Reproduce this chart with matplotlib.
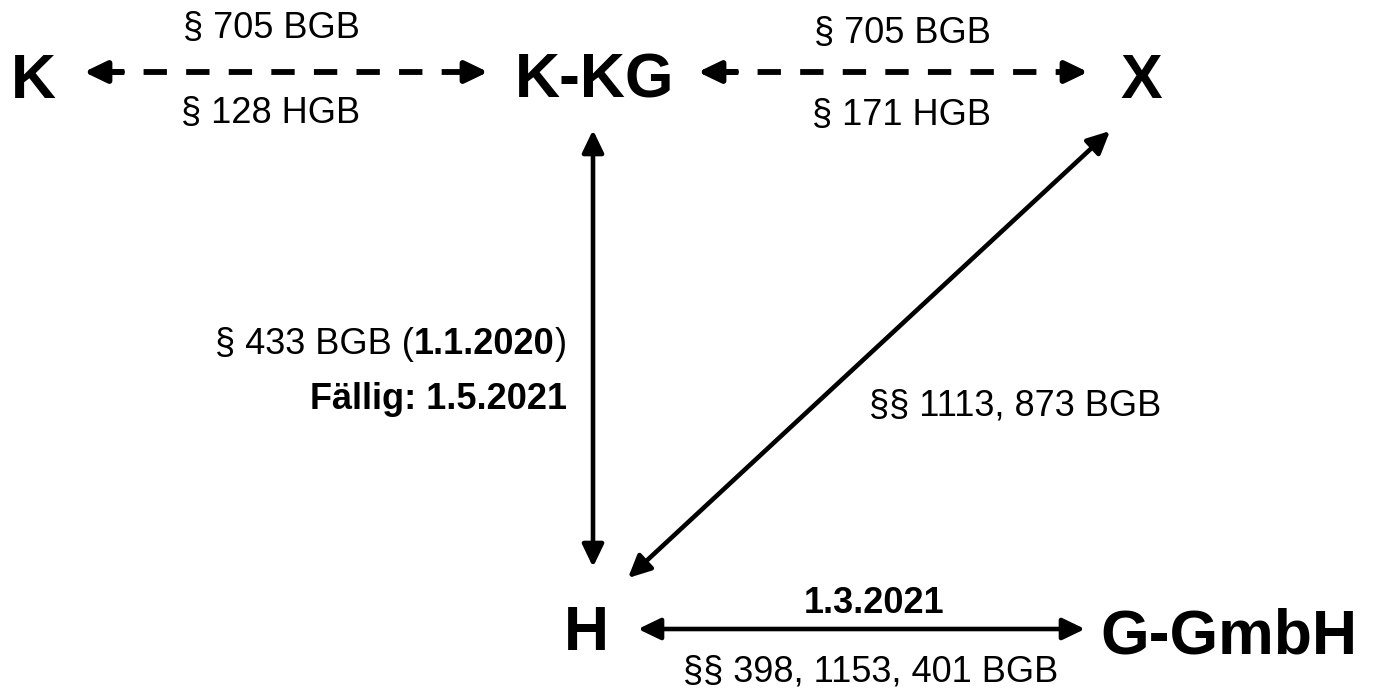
import matplotlib
matplotlib.use("Agg")
import matplotlib.pyplot as plt

plt.rcParams["font.family"] = ["Liberation Sans", "DejaVu Sans"]

# nodes of the diagram
node_names = ["K", "K-KG", "X", "H", "G-GmbH"]

# edges: (from, to, dashed)
edges = [
    ("K", "K-KG", True),
    ("K-KG", "X", True),
    ("K-KG", "H", False),
    ("X", "H", False),
    ("H", "G-GmbH", False),
]

# label texts
lbl_k_top = "§ 705 BGB"
lbl_k_bottom = "§ 128 HGB"
lbl_x_top = "§ 705 BGB"
lbl_x_bottom = "§ 171 HGB"
lbl_hyp = "§§ 1113, 873 BGB"
lbl_loan_parts = ["§ 433 BGB (", "1.1.2020", ")"]
lbl_due = "Fällig: 1.5.2021"
lbl_date = "1.3.2021"
lbl_assign = "§§ 398, 1153, 401 BGB"

# layout in pixel coordinates (x, text baseline)
node_pos = {
    "K": (33, 98),
    "K-KG": (595, 98),
    "X": (1141, 98),
    "H": (586, 650),
    "G-GmbH": (1229, 654),
}
# arrow end points for every edge
edge_ends = {
    ("K", "K-KG"): ((84, 72), (488, 72)),
    ("K-KG", "X"): ((698, 72), (1088, 72)),
    ("K-KG", "H"): ((593, 130), (593, 567)),
    ("X", "H"): ((1110, 131), (628, 578)),
    ("H", "G-GmbH"): ((638, 629), (1085, 629)),
}

fig = plt.figure(figsize=(13.76, 6.88), dpi=100)
ax = fig.add_axes([0, 0, 1, 1])
ax.set_xlim(0, 1376)
ax.set_ylim(688, 0)
ax.axis("off")

head = "-|>,head_length=13.5,head_width=6.5"
both = "<|-|>,head_length=13.5,head_width=6.5"

for a, b, dashed in edges:
    (x0, y0), (x1, y1) = edge_ends[(a, b)]
    if dashed:
        # dashed shaft plus two solid heads
        ax.plot([x0 + 17, x1 - 17], [y0, y1], color="black", lw=4.2,
                ls=(0, (4.0, 3.3)), dash_capstyle="butt", solid_capstyle="butt")
        ax.annotate("", xy=(x0, y0), xytext=(x0 + 38, y0),
                    arrowprops=dict(arrowstyle=head, mutation_scale=1, lw=4.2,
                                    color="black", shrinkA=0, shrinkB=0))
        ax.annotate("", xy=(x1, y1), xytext=(x1 - 20, y1),
                    arrowprops=dict(arrowstyle=head, mutation_scale=1, lw=4.2,
                                    color="black", shrinkA=0, shrinkB=0))
    else:
        ax.annotate("", xy=(x1, y1), xytext=(x0, y0),
                    arrowprops=dict(arrowstyle=both, mutation_scale=1, lw=3.3,
                                    color="black", shrinkA=0, shrinkB=0))

for name in node_names:
    x, y = node_pos[name]
    ax.text(x, y, name, fontsize=45, fontweight="bold", ha="center", va="baseline")

fs = 26
ax.text(271, 38, lbl_k_top, fontsize=fs, ha="center", va="baseline")
ax.text(271, 123, lbl_k_bottom, fontsize=fs, ha="center", va="baseline")
ax.text(902, 43, lbl_x_top, fontsize=fs, ha="center", va="baseline")
ax.text(902, 125, lbl_x_bottom, fontsize=fs, ha="center", va="baseline")
ax.text(1015, 415, lbl_hyp, fontsize=fs, ha="center", va="baseline")

# mixed regular / bold label, built right to left
t3 = ax.text(567, 354, lbl_loan_parts[2], fontsize=fs, ha="right", va="baseline")
t2 = ax.annotate(lbl_loan_parts[1], xy=(0, 0), xycoords=t3, fontsize=fs,
                 fontweight="bold", ha="right", va="bottom")
ax.annotate(lbl_loan_parts[0], xy=(0, 0), xycoords=t2, fontsize=fs,
            ha="right", va="bottom")

ax.text(567, 409, lbl_due, fontsize=fs, fontweight="bold", ha="right", va="baseline")
ax.text(874, 613, lbl_date, fontsize=fs, fontweight="bold", ha="center", va="baseline")
ax.text(871, 681, lbl_assign, fontsize=fs, ha="center", va="baseline")

fig.savefig("out.png", dpi=100)
